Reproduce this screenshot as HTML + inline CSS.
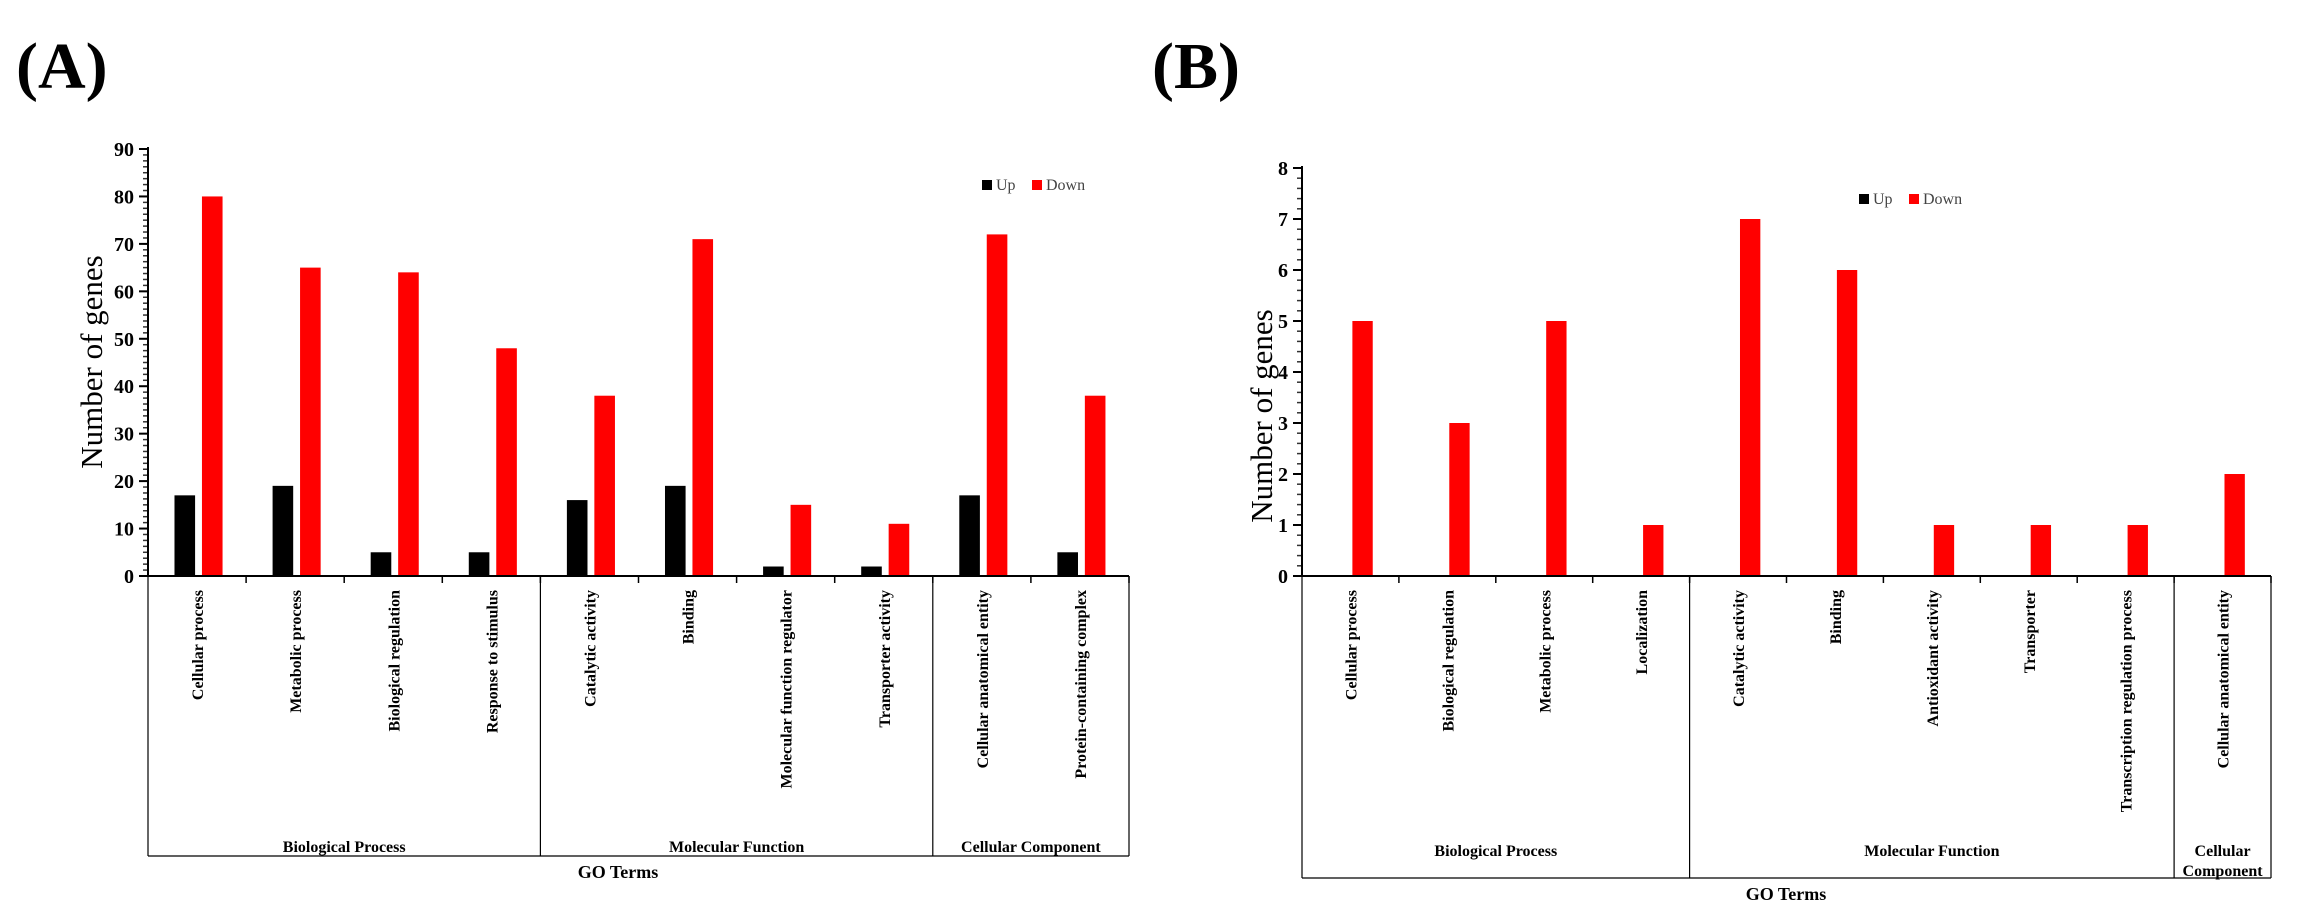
<!DOCTYPE html>
<html><head><meta charset="utf-8"><style>
html,body{margin:0;padding:0;background:#fff;}
svg{display:block;font-family:"Liberation Serif",serif;}
</style></head><body>
<svg id="chart" width="2310" height="924" viewBox="0 0 2310 924" xmlns="http://www.w3.org/2000/svg">
<text x="16" y="88" font-size="66" font-weight="bold">(A)</text>
<text x="1152" y="88" font-size="66" font-weight="bold">(B)</text>
</svg>
<script>
const catsA = ["Cellular process","Metabolic process","Biological regulation","Response to stimulus","Catalytic activity","Binding","Molecular function regulator","Transporter activity","Cellular anatomical entity","Protein-containing complex"];
const upA = [17,19,5,5,16,19,2,2,17,5];
const downA = [80,65,64,48,38,71,15,11,72,38];
const ticksA = [0,10,20,30,40,50,60,70,80,90];
const groupsA = [["Biological Process",4],["Molecular Function",4],["Cellular Component",2]];

const catsB = ["Cellular process","Biological regulation","Metabolic process","Localization","Catalytic activity","Binding","Antioxidant activity","Transporter","Transcription regulation process","Cellular anatomical entity"];
const upB = [0,0,0,0,0,0,0,0,0,0];
const downB = [5,3,5,1,7,6,1,1,1,2];
const ticksB = [0,1,2,3,4,5,6,7,8];
const groupsB = [["Biological Process",4],["Molecular Function",5],["Cellular\nComponent",1]];

const svg = document.getElementById('chart');
const NS = "http://www.w3.org/2000/svg";
function mk(tag, attrs, parent){
  const e = document.createElementNS(NS, tag);
  for (const k in attrs) e.setAttribute(k, attrs[k]);
  (parent||svg).appendChild(e);
  return e;
}

function panel(cfg){
  const {id, x0, x1, y0, yTop, maxV, cats, up, down, ticks, groups, minorStep, boxBottom, groupY, goX, goY, titleX, titleY, legX, legY, upF, downF} = cfg;
  const g = mk('g', {});
  
  
  const cw = (x1 - x0) / cats.length;
  const yS = v => y0 - (v / maxV) * (y0 - yTop);
  const xS = i => x0 + i * cw;
  for (let v = 0; v <= maxV + 1e-9; v += minorStep) {
    const t = mk('line', {x1: x0 - 5, x2: x0, y1: yS(v), y2: yS(v), stroke: '#333', 'stroke-width': 1.5}, g);
    
    
  }
  ticks.forEach(v => {
    const t = mk('line', {x1: x0 - 9, x2: x0, y1: yS(v), y2: yS(v), stroke: '#000', 'stroke-width': 2}, g);
    
    
    const l = mk('text', {x: x0 - 14, y: yS(v) + 7, 'text-anchor': 'end', 'font-size': 20, 'font-weight': 'bold'}, g);
    l.textContent = v;
    
    
  });
  cats.forEach((c, i) => {
    const bu = mk('rect', {x: xS(i) + upF[0] * cw, width: (upF[1] - upF[0]) * cw, y: yS(up[i]), height: y0 - yS(up[i]), fill: '#000'}, g);
    
    
    const bd = mk('rect', {x: xS(i) + downF[0] * cw, width: (downF[1] - downF[0]) * cw, y: yS(down[i]), height: y0 - yS(down[i]), fill: '#ff0000'}, g);
    
    
    const cx = xS(i) + cw / 2;
    const lab = mk('text', {x: 0, y: 0, transform: `translate(${cx + 6},${y0 + 14}) rotate(-90)`, 'text-anchor': 'end', 'font-size': 16, 'font-weight': 'bold'}, g);
    lab.textContent = c;
    
    
    const tk = mk('line', {x1: xS(i + 1), x2: xS(i + 1), y1: y0, y2: y0 + 7, stroke: '#000', 'stroke-width': 1.5}, g);
    
    
  });
  const ya = mk('line', {x1: x0, x2: x0, y1: yTop - 2, y2: y0, stroke: '#000', 'stroke-width': 2}, g);
  
  
  const xa = mk('line', {x1: x0, x2: x1, y1: y0, y2: y0, stroke: '#000', 'stroke-width': 2}, g);
  
  
  let idx = 0;
  const lb = mk('line', {x1: x0, x2: x0, y1: y0, y2: boxBottom, stroke: '#000', 'stroke-width': 1.2}, g);
  
  
  groups.forEach(([name, n]) => {
    const gx0 = xS(idx), gx1 = xS(idx + n);
    idx += n;
    const d = mk('line', {x1: gx1, x2: gx1, y1: y0, y2: boxBottom, stroke: '#000', 'stroke-width': 1.2}, g);
    
    
    const lines = name.split('\n');
    lines.forEach((ln, k) => {
      const t = mk('text', {x: (gx0 + gx1) / 2, y: groupY + k * 20, 'text-anchor': 'middle', 'font-size': 16, 'font-weight': 'bold'}, g);
      t.textContent = ln;
      
      
    });
  });
  const bl = mk('line', {x1: x0, x2: x1, y1: boxBottom, y2: boxBottom, stroke: '#000', 'stroke-width': 1.2}, g);
  
  
  const go = mk('text', {x: goX, y: goY, 'text-anchor': 'middle', 'font-size': 18, 'font-weight': 'bold'}, g);
  go.textContent = 'GO Terms';
  
  
  const yt = mk('text', {x: 0, y: 0, transform: `translate(${titleX},${titleY}) rotate(-90)`, 'text-anchor': 'middle', 'font-size': 31}, g);
  yt.textContent = 'Number of genes';
  
  
  const s1 = mk('rect', {x: legX, y: legY - 10, width: 10, height: 10, fill: '#000'}, g);
  
  
  const t1 = mk('text', {x: legX + 14, y: legY, 'font-size': 16, fill: '#444'}, g);
  t1.textContent = 'Up';
  
  
  const s2 = mk('rect', {x: legX + 50, y: legY - 10, width: 10, height: 10, fill: '#ff0000'}, g);
  
  
  const t2 = mk('text', {x: legX + 64, y: legY, 'font-size': 16, fill: '#444'}, g);
  t2.textContent = 'Down';
  
  
}

panel({id:'panel-a', x0:148, x1:1129, y0:576, yTop:149, maxV:90, cats:catsA, up:upA, down:downA, ticks:ticksA, groups:groupsA, minorStep:1.25, boxBottom:856, groupY:852, goX:618, goY:878, titleX:102, titleY:362, legX:982, legY:190, upF:[0.27,0.48], downF:[0.55,0.76]});
panel({id:'panel-b', x0:1302, x1:2271, y0:576, yTop:168, maxV:8, cats:catsB, up:upB, down:downB, ticks:ticksB, groups:groupsB, minorStep:0.2, boxBottom:878, groupY:856, goX:1786, goY:900, titleX:1272, titleY:416, legX:1859, legY:204, upF:[0.27,0.48], downF:[0.52,0.73]});
</script>
</body></html>
